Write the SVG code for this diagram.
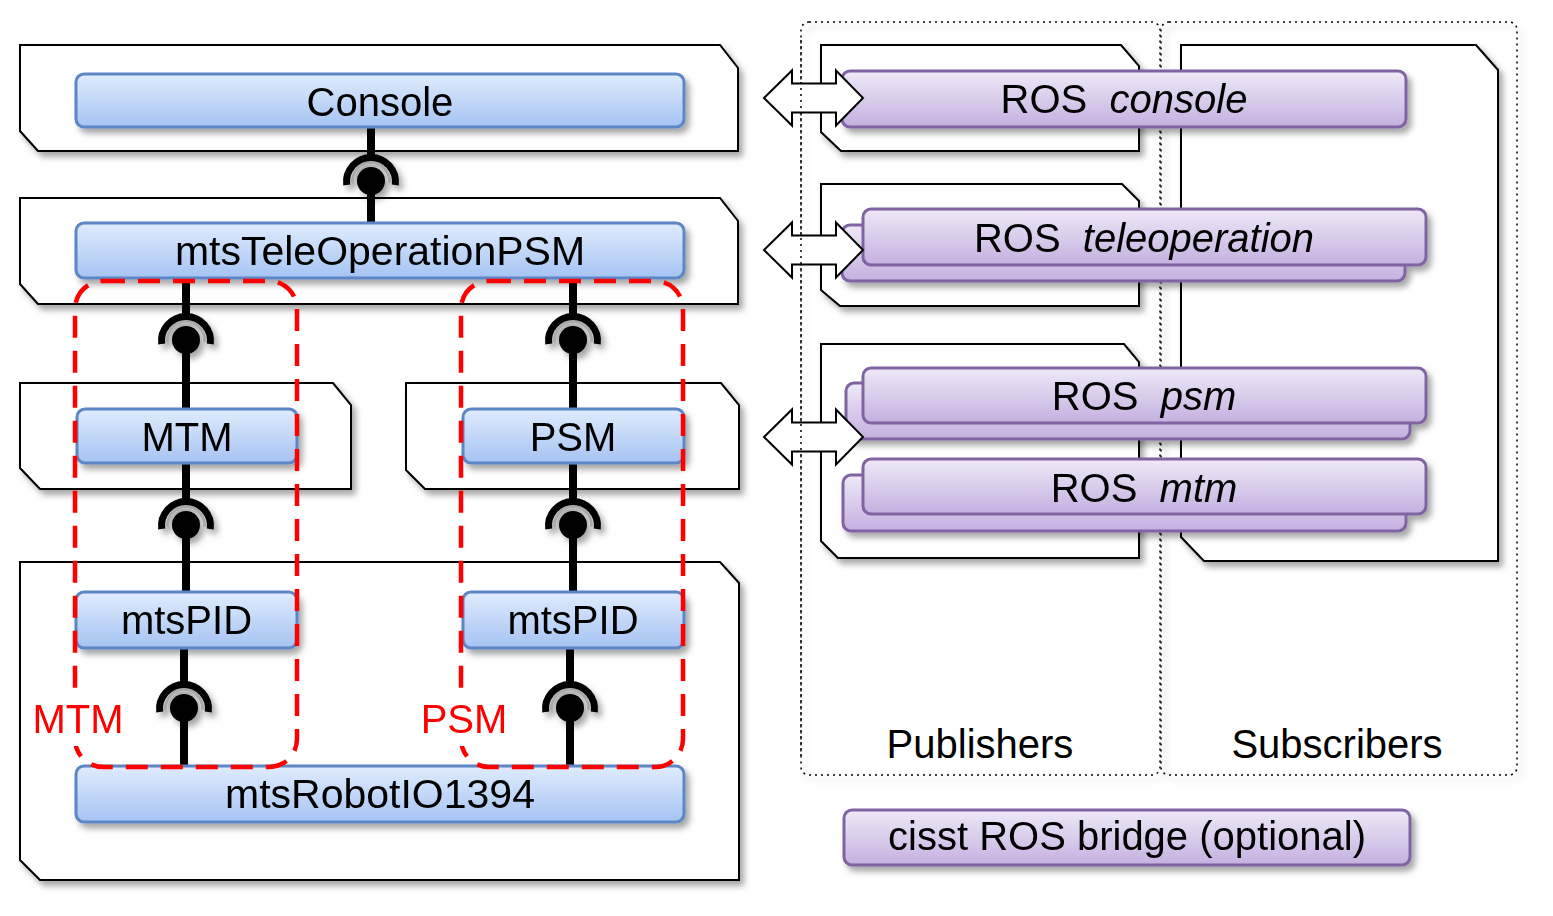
<svg xmlns="http://www.w3.org/2000/svg" width="1553" height="916" viewBox="0 0 1553 916">
<defs>
<style>
.cont{fill:#fff;stroke:#000;stroke-width:2}
.blue{fill:url(#gb);stroke:#5b86c5;stroke-width:3}
.purp{fill:url(#gp);stroke:#8064a2;stroke-width:3}
.t{font-family:"Liberation Sans",Arial,sans-serif;font-size:40px;fill:#000;text-anchor:middle}
.red{font-family:"Liberation Sans",Arial,sans-serif;font-size:40px;fill:#ff0000;text-anchor:middle}
.wire{stroke:#000;stroke-width:8;fill:none}
.grp{fill:none;stroke:#ff0000;stroke-width:4.5;stroke-dasharray:22 13}
.dot{fill:none;stroke:#000;stroke-width:1.5;stroke-dasharray:2 4}
.arr{fill:#fff;stroke:#000;stroke-width:2}
</style>
<linearGradient id="gb" x1="0" y1="0" x2="0" y2="1"><stop offset="0" stop-color="#e0ecfd"/><stop offset="1" stop-color="#a5c3f3"/></linearGradient>
<linearGradient id="gp" x1="0" y1="0" x2="0" y2="1"><stop offset="0" stop-color="#efe9f7"/><stop offset="1" stop-color="#c3b0e0"/></linearGradient>
<filter id="sh" x="-10%" y="-10%" width="130%" height="150%"><feDropShadow dx="4" dy="5" stdDeviation="3" flood-color="#000" flood-opacity="0.35"/></filter>
<g id="sock">
<path d="M-18.4,2 A18.5,18.5 0 1 1 18.4,2" fill="none" stroke="#aaa" stroke-width="3"/>
<path d="M-24.3,4 A24.5,24.5 0 1 1 24.3,4" fill="none" stroke="#000" stroke-width="7"/>
<circle r="14" fill="#000"/>
</g>
</defs>
<rect width="1553" height="916" fill="#fff"/>

<g id="panels" filter="url(#sh)">
<rect class="dot" x="801" y="22" width="359" height="753" rx="8"/>
<rect class="dot" x="1161" y="22" width="356" height="753" rx="8"/>
</g>

<g id="containers" filter="url(#sh)">
<path class="cont" d="M20,45 H720 L738,68 V151 H38 L20,131 Z"/>
<path class="cont" d="M20,198 H720 L738,221 V304 H38 L20,284 Z"/>
<path class="cont" d="M20,383 H333 L351,405 V489 H40 L20,468 Z"/>
<path class="cont" d="M406,383 H721 L739,405 V489 H425 L406,470 Z"/>
<path class="cont" d="M20,562 H720 L739,583 V880 H40 L20,860 Z"/>
<path class="cont" d="M821,45 H1121 L1139,66 V151 H841 L821,132 Z"/>
<path class="cont" d="M821,184 H1122 L1139,201 V306 H840 L821,290 Z"/>
<path class="cont" d="M821,344 H1124 L1139,362 V558 H838 L821,541 Z"/>
<path class="cont" d="M1181,45 H1476 L1498,70 V561 H1204 L1181,537 Z"/>
</g>

<g id="connectors">
<path class="wire" d="M371,127 V156 M371,181 V223"/>
<path class="wire" d="M186,278 V314 M186,340 V409"/>
<path class="wire" d="M186,463 V499 M186,525 V592"/>
<path class="wire" d="M184,648 V683 M184,708 V766"/>
<path class="wire" d="M573,278 V314 M573,340 V409"/>
<path class="wire" d="M573,463 V499 M573,525 V592"/>
<path class="wire" d="M570,648 V683 M570,708 V766"/>
<g filter="url(#sh)">
<use href="#sock" x="371" y="181"/>
<use href="#sock" x="186" y="340"/>
<use href="#sock" x="186" y="525"/>
<use href="#sock" x="184" y="708"/>
<use href="#sock" x="573" y="340"/>
<use href="#sock" x="573" y="525"/>
<use href="#sock" x="570" y="708"/>
</g>
</g>

<g id="console" filter="url(#sh)"><rect class="blue" x="76" y="74" width="608" height="53" rx="8"/><text class="t" x="380" y="116">Console</text></g>
<g id="teleop" filter="url(#sh)"><rect class="blue" x="76" y="223" width="608" height="55" rx="8"/><text class="t" x="380" y="265" style="font-size:41px">mtsTeleOperationPSM</text></g>
<g id="mtm" filter="url(#sh)"><rect class="blue" x="77" y="409" width="220" height="54" rx="8"/><text class="t" x="187" y="451">MTM</text></g>
<g id="psm" filter="url(#sh)"><rect class="blue" x="463" y="409" width="221" height="54" rx="8"/><text class="t" x="573" y="451">PSM</text></g>
<g id="pid-mtm" filter="url(#sh)"><rect class="blue" x="76" y="592" width="221" height="56" rx="8"/><text class="t" x="186.5" y="634">mtsPID</text></g>
<g id="pid-psm" filter="url(#sh)"><rect class="blue" x="463" y="592" width="221" height="56" rx="8"/><text class="t" x="573" y="634">mtsPID</text></g>
<g id="robotio" filter="url(#sh)"><rect class="blue" x="76" y="766" width="608" height="56" rx="8"/><text class="t" x="380" y="808" style="font-size:41px">mtsRobotIO1394</text></g>

<g id="group-mtm">
<rect class="grp" x="75" y="281" width="222" height="486" rx="28"/>
<rect x="27" y="694" width="103" height="52" fill="#fff"/>
<text class="red" x="78" y="733">MTM</text>
</g>
<g id="group-psm">
<rect class="grp" x="461" y="281" width="222" height="486" rx="28"/>
<rect x="420" y="694" width="90" height="52" fill="#fff"/>
<text class="red" x="464" y="733">PSM</text>
</g>

<g id="ros-console" filter="url(#sh)"><rect class="purp" x="842" y="71" width="564" height="56" rx="8"/><text class="t" x="1124" y="113" xml:space="preserve">ROS  <tspan font-style="italic">console</tspan></text></g>
<g id="ros-teleop" filter="url(#sh)"><rect class="purp" x="842" y="225" width="563" height="56" rx="8"/><rect class="purp" x="863" y="209" width="563" height="56" rx="8"/><text class="t" x="1144" y="252" xml:space="preserve">ROS  <tspan font-style="italic">teleoperation</tspan></text></g>
<g id="ros-psm" filter="url(#sh)"><rect class="purp" x="846" y="383" width="564" height="56" rx="8"/><rect class="purp" x="863" y="368" width="563" height="55" rx="8"/><text class="t" x="1144" y="410" xml:space="preserve">ROS  <tspan font-style="italic">psm</tspan></text></g>
<g id="ros-mtm" filter="url(#sh)"><rect class="purp" x="843" y="475" width="563" height="56" rx="8"/><rect class="purp" x="863" y="459" width="563" height="55" rx="8"/><text class="t" x="1144" y="502" xml:space="preserve">ROS  <tspan font-style="italic">mtm</tspan></text></g>

<g id="arrows">
<polygon class="arr" points="764,98 792,70.5 792,83.5 836,83.5 836,70.5 863,98 836,125.5 836,112.5 792,112.5 792,125.5"/>
<polygon class="arr" points="764,250 792,222.5 792,235.5 836,235.5 836,222.5 863,250 836,277.5 836,264.5 792,264.5 792,277.5"/>
<polygon class="arr" points="764,437 792,409.5 792,422.5 836,422.5 836,409.5 863,437 836,464.5 836,451.5 792,451.5 792,464.5"/>
<line class="dot" x1="801" y1="40" x2="801" y2="760"/>
</g>

<g id="labels">
<text class="t" x="980" y="758">Publishers</text>
<text class="t" x="1337" y="758">Subscribers</text>
</g>
<g id="bridge" filter="url(#sh)"><rect class="purp" x="844" y="810" width="566" height="55" rx="8"/><text class="t" x="1127" y="850">cisst ROS bridge (optional)</text></g>
</svg>
